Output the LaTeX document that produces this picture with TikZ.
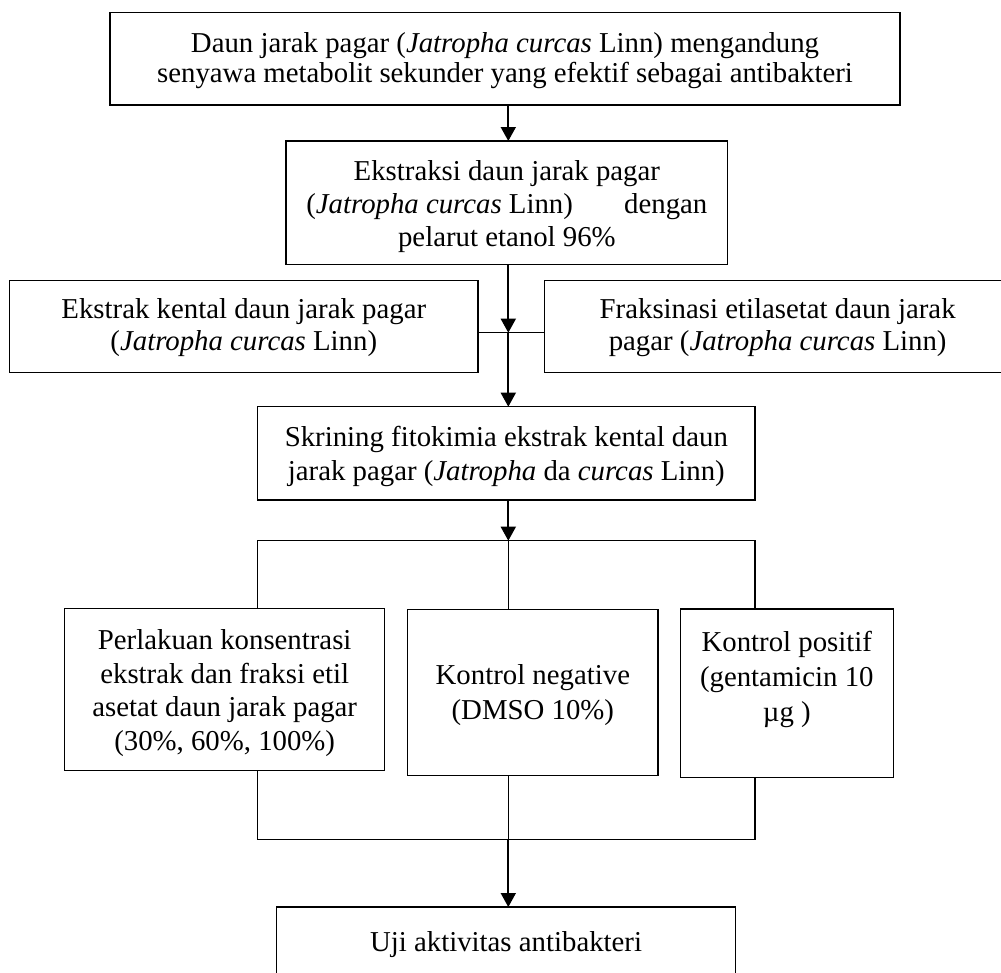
\documentclass[tikz,border=0pt]{standalone}
\usepackage{fontspec}
\setmainfont{Liberation Serif}
\usetikzlibrary{arrows.meta}
\begin{document}
\begin{tikzpicture}[x=1pt,y=-1pt,
  box/.style={draw, line width=1.4pt, inner sep=0pt, outer sep=0pt},
  txt/.style={align=center, inner sep=0pt, font=\fontsize{28.8}{#1}\selectfont},
  conn/.style={line width=1.4pt},
  thinconn/.style={line width=1pt},
  arr/.style={line width=1.8pt, -{Triangle[length=14pt,width=15pt]}}]
\useasboundingbox (0,0) rectangle (1001,972);
\clip (0,0) rectangle (1001,972);
\fill[white] (0,0) rectangle (1001,972);

% boxes
\node[box, minimum width=790pt, minimum height=92.3pt] (b1) at (505,58.85) {};
\node[box, minimum width=441.7pt, minimum height=123.3pt] (b2) at (506.85,202.65) {};
\node[box, minimum width=468.4pt, minimum height=92pt] (b3L) at (243.8,326.3) {};
\node[box, minimum width=466.7pt, minimum height=92pt] (b3R) at (777.65,326.3) {};
\node[box, minimum width=497.3pt, minimum height=93.3pt] (b4) at (506.35,453.35) {};
\node[box, minimum width=320pt, minimum height=162pt] (b5L) at (224.7,689.7) {};
\node[box, minimum width=250.3pt, minimum height=166pt] (b5M) at (532.85,692.3) {};
\node[box, minimum width=213pt, minimum height=168.3pt] (b5R) at (786.8,693.15) {};
\node[box, minimum width=458.9pt, minimum height=120pt] (b6) at (506.05,967) {};

% texts
\node[txt=30] (t1) at (505,60.3) {Daun jarak pagar (\textit{Jatropha curcas} Linn) mengandung\\senyawa metabolit sekunder yang efektif sebagai antibakteri};
\node[txt=33.3] (t2) at (506.85,206.6) {Ekstraksi daun jarak pagar\\(\textit{Jatropha curcas} Linn)\hspace{44pt} dengan\\pelarut etanol 96\%};
\node[txt=32] (t3L) at (243.8,327.3) {Ekstrak kental daun jarak pagar\\(\textit{Jatropha curcas} Linn)};
\node[txt=32] (t3R) at (777.65,327.3) {Fraksinasi etilasetat daun jarak\\pagar (\textit{Jatropha curcas} Linn)};
\node[txt=33.3] (t4) at (506.35,456.6) {Skrining fitokimia ekstrak kental daun\\jarak pagar (\textit{Jatropha} da \textit{curcas} Linn)};
\node[txt=33.7] (t5L) at (224.7,693.2) {Perlakuan konsentrasi\\ekstrak dan fraksi etil\\asetat daun jarak pagar\\(30\%, 60\%, 100\%)};
\node[txt=35] (t5M) at (532.85,695.2) {Kontrol negative\\(DMSO 10\%)};
\node[txt=35] (t5R) at (786.8,679.3) {Kontrol positif\\(gentamicin 10\\µg )};
\node[txt=33] (t6) at (506.05,944.3) {Uji aktivitas antibakteri};

% helper coordinates
\coordinate (cx) at (508.3,0);
\coordinate (j1) at (508.3,332.7);
\coordinate (sL) at (257.7,540.7);
\coordinate (sM) at (508.3,540.7);
\coordinate (sR) at (755,540.7);
\coordinate (mL) at (257.7,839.3);
\coordinate (mM) at (508.3,839.3);
\coordinate (mR) at (755,839.3);

% connectors
\draw[arr] (b1.south -| cx) -- (b2.north -| cx);
\draw[arr] (b2.south -| cx) -- (j1);
\draw[arr] (j1) -- (b4.north -| cx);
\draw[conn] (b3L.east |- j1) -- (b3R.west |- j1);
\draw[arr] (b4.south -| cx) -- (sM);
\draw[conn] (b5L.north -| sL) -- (sL) -- (sR) -- (b5R.north -| sR);
\draw[thinconn] (sM) -- (b5M.north -| sM);
\draw[conn] (b5L.south -| mL) -- (mL) -- (mR) -- (b5R.south -| mR);
\draw[thinconn] (b5M.south -| mM) -- (mM);
\draw[arr] (mM) -- (b6.north -| mM);
\end{tikzpicture}
\end{document}
